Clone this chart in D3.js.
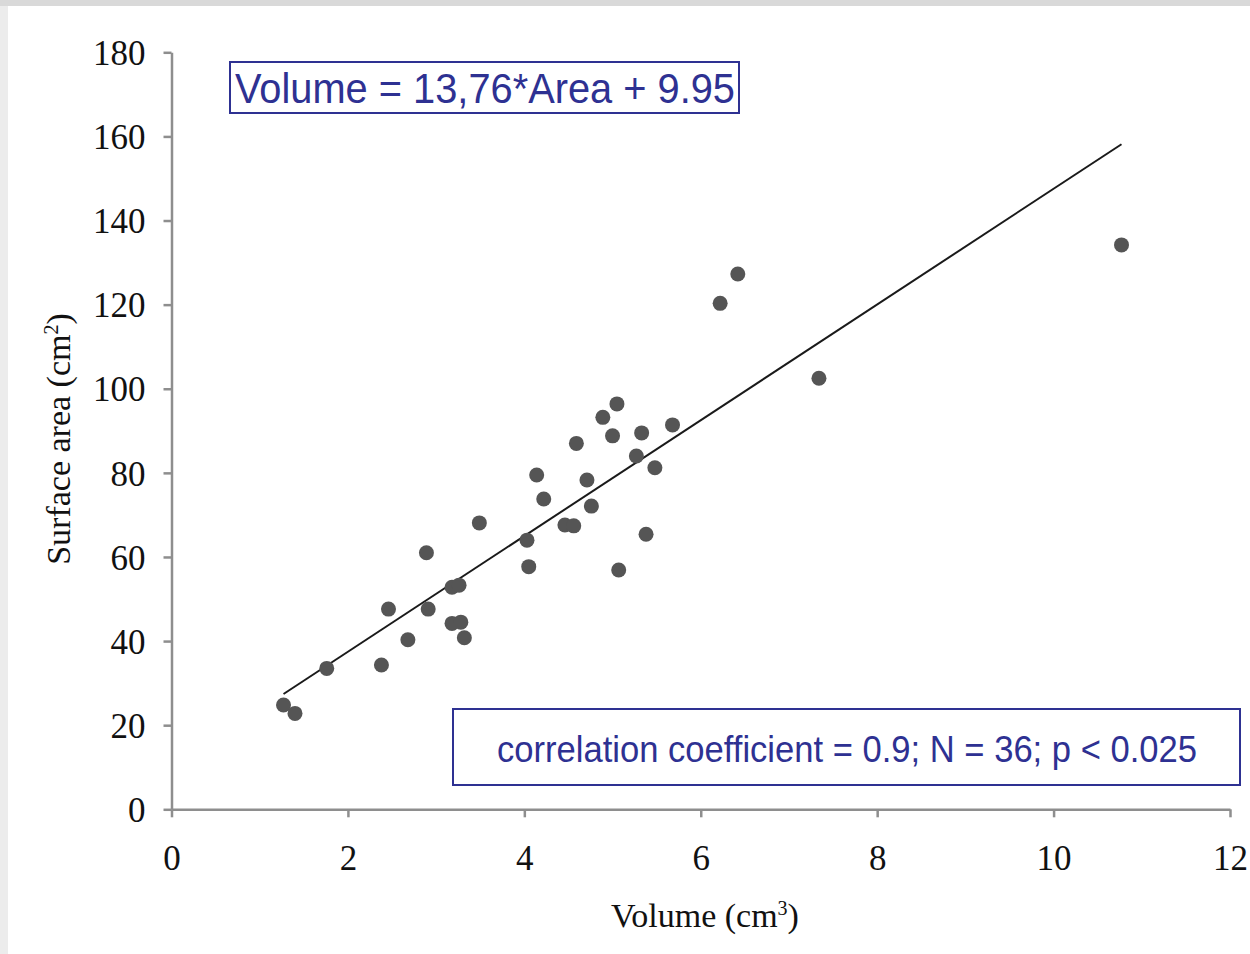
<!DOCTYPE html>
<html>
<head>
<meta charset="utf-8">
<script src="https://cdn.jsdelivr.net/npm/d3@7"></script>
<style>
  html, body { margin: 0; padding: 0; background: #e6e6e6; }
  svg { display: block; }
</style>
</head>
<body>
<script>
const width = 1250;
const height = 954;

// volume (cm3) and surface area (cm2)
const volumes = [1.27, 1.40, 1.76, 2.38, 2.46, 2.68, 2.89, 2.91, 3.18, 3.26,
                 3.18, 3.28, 3.32, 3.49, 4.03, 4.05, 4.14, 4.22, 4.46, 4.56,
                 4.59, 4.71, 4.76, 4.89, 5.00, 5.05, 5.07, 5.27, 5.33, 5.38,
                 5.48, 5.68, 6.22, 6.42, 7.34, 10.77];
const areas = [24.8, 22.8, 33.5, 34.3, 47.6, 40.3, 61.0, 47.6, 52.8, 53.3,
               44.2, 44.5, 40.8, 68.1, 64.0, 57.7, 79.5, 73.8, 67.6, 67.4,
               87.0, 78.3, 72.1, 93.2, 88.8, 96.4, 56.9, 84.0, 89.5, 65.4,
               81.2, 91.4, 120.3, 127.3, 102.5, 134.2];

// fitted line from the chart's equation
const fitSlope = 13.76;
const fitIntercept = 9.95;

const xTicks = [0, 2, 4, 6, 8, 10, 12];
const yTicks = [0, 20, 40, 60, 80, 100, 120, 140, 160, 180];

const equationText = "Volume = 13,76*Area + 9.95";
const statsText = "correlation coefficient = 0.9; N = 36; p < 0.025";

const blue = "#2e3192";
const axisGrey = "#8e8e8e";
const serif = "'Liberation Serif', 'Times New Roman', serif";
const sans = "'Liberation Sans', Arial, sans-serif";

const svg = d3.select(document.body).append("svg")
    .attr("width", width)
    .attr("height", height);

// slide background: grey strip top/left, white panel
svg.append("rect").attr("width", width).attr("height", height).attr("fill", "#ececec");
svg.append("rect").attr("width", width).attr("height", 6).attr("fill", "#d9d9d9");
svg.append("rect").attr("x", 8).attr("y", 6)
    .attr("width", width - 8).attr("height", height - 6).attr("fill", "#fff");

const x = d3.scaleLinear().domain([0, 12]).range([171.5, 1230]);
const y = d3.scaleLinear().domain([0, 180]).range([809.3, 52.3]);

// y axis
const yAxis = svg.append("g")
    .attr("transform", `translate(${x(0)},0)`)
    .call(d3.axisLeft(y).tickValues(yTicks).tickSize(8).tickSizeOuter(0).tickPadding(18));

// x axis
const xAxis = svg.append("g")
    .attr("transform", `translate(0,${y(0)})`)
    .call(d3.axisBottom(x).tickValues(xTicks).tickSize(8).tickSizeOuter(0));

[xAxis, yAxis].forEach(g => {
    g.select(".domain").attr("stroke", axisGrey).attr("stroke-width", 2.5);
    g.selectAll(".tick line").attr("stroke", axisGrey).attr("stroke-width", 2.5);
    g.selectAll(".tick text")
        .attr("fill", "#111")
        .style("font-family", serif)
        .style("font-size", "35px");
});
yAxis.selectAll(".tick text").attr("dy", "0.35em");
xAxis.selectAll(".tick text").attr("y", 61).attr("dy", 0);

// axis titles
const xTitle = svg.append("text")
    .attr("x", 705).attr("y", 927)
    .attr("text-anchor", "middle")
    .attr("fill", "#111")
    .style("font-family", serif)
    .style("font-size", "34px");
xTitle.append("tspan").text("Volume (cm");
xTitle.append("tspan").text("3").style("font-size", "20px").attr("dy", -12);
xTitle.append("tspan").text(")").attr("dy", 12);

const yTitle = svg.append("text")
    .attr("transform", "translate(70,439) rotate(-90)")
    .attr("text-anchor", "middle")
    .attr("fill", "#111")
    .style("font-family", serif)
    .style("font-size", "34px");
yTitle.append("tspan").text("Surface area (cm");
yTitle.append("tspan").text("2").style("font-size", "20px").attr("dy", -12);
yTitle.append("tspan").text(")").attr("dy", 12);

// regression line
const xMin = d3.min(volumes);
const xMax = d3.max(volumes);
svg.append("line")
    .attr("x1", x(xMin)).attr("y1", y(fitSlope * xMin + fitIntercept))
    .attr("x2", x(xMax)).attr("y2", y(fitSlope * xMax + fitIntercept))
    .attr("stroke", "#1a1a1a")
    .attr("stroke-width", 2);

// points
svg.append("g")
    .attr("fill", "#555")
    .selectAll("circle")
    .data(volumes.map((v, i) => [v, areas[i]]))
    .join("circle")
    .attr("cx", d => x(d[0]))
    .attr("cy", d => y(d[1]))
    .attr("r", 7.5);

// equation box
svg.append("rect")
    .attr("x", 230).attr("y", 62)
    .attr("width", 509).attr("height", 51)
    .attr("fill", "none")
    .attr("stroke", blue)
    .attr("stroke-width", 2);
svg.append("text")
    .attr("x", 235).attr("y", 103)
    .attr("textLength", 500)
    .attr("lengthAdjust", "spacingAndGlyphs")
    .attr("fill", blue)
    .style("font-family", sans)
    .style("font-size", "42px")
    .text(equationText);

// statistics box
svg.append("rect")
    .attr("x", 453).attr("y", 709)
    .attr("width", 787).attr("height", 76)
    .attr("fill", "none")
    .attr("stroke", blue)
    .attr("stroke-width", 2);
svg.append("text")
    .attr("x", 497).attr("y", 762)
    .attr("textLength", 700)
    .attr("lengthAdjust", "spacingAndGlyphs")
    .attr("fill", blue)
    .style("font-family", sans)
    .style("font-size", "37px")
    .text(statsText);
</script>
</body>
</html>
